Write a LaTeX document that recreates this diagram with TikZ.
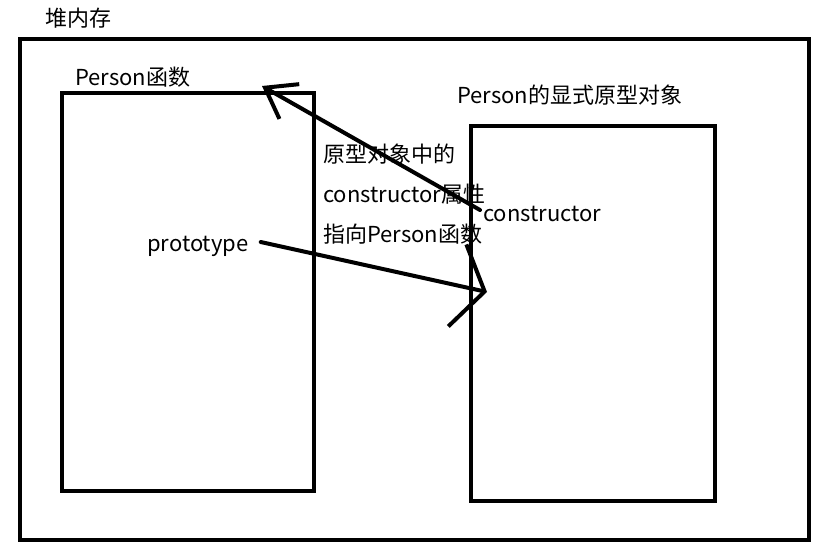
\documentclass[tikz,border=0pt]{standalone}
\usepackage{fontspec}
\setmainfont{Noto Sans CJK SC}
\usetikzlibrary{arrows.meta}
\usetikzlibrary{positioning}
\tikzset{>=latex}
\tikzstyle{box} = [rectangle, draw, line width=4pt, inner sep=0pt]
\tikzstyle{lbl} = [inner sep=0pt, anchor=west, font=\fontsize{22}{40}\selectfont]
\tikzstyle{hand} = [line width=4pt, line cap=round, line join=round]

\begin{document}
\begin{tikzpicture}[x=1pt, y=-1pt]
\useasboundingbox (0,0) rectangle (820,549);
\node [box, minimum width=789pt, minimum height=501pt] (heap) at (414.5,289.5) {};
\node [box, minimum width=252pt, minimum height=398pt] (fn) at (188,292) {};
\node [box, minimum width=244pt, minimum height=375pt] (proto) at (593,313.5) {};
\node [lbl] (heaplbl) at (45,18) {堆内存};
\node [lbl] (fnlbl) at (75,77) {Person函数};
\node [lbl] (protolbl) at (457,95) {Person的显式原型对象};
\node [lbl] (ptr) at (147,246) {prototype};
\node [lbl] (ctor) at (483,214) {constructor};
\node [lbl, align=left] (note) at (323,194) {原型对象中的\\constructor属性\\指向Person函数};
\coordinate (hit) at (487,292);
\coordinate (back) at (262,86);
\draw [hand, -{Straight Barb[length=28pt, width=84pt]}] ([xshift=12pt, yshift=4pt]ptr.east) to (hit);
\draw [hand, -{Straight Barb[length=28pt, width=40pt]}] ([xshift=-3pt, yshift=4pt]ctor.west) to (back);
\end{tikzpicture}
\end{document}
